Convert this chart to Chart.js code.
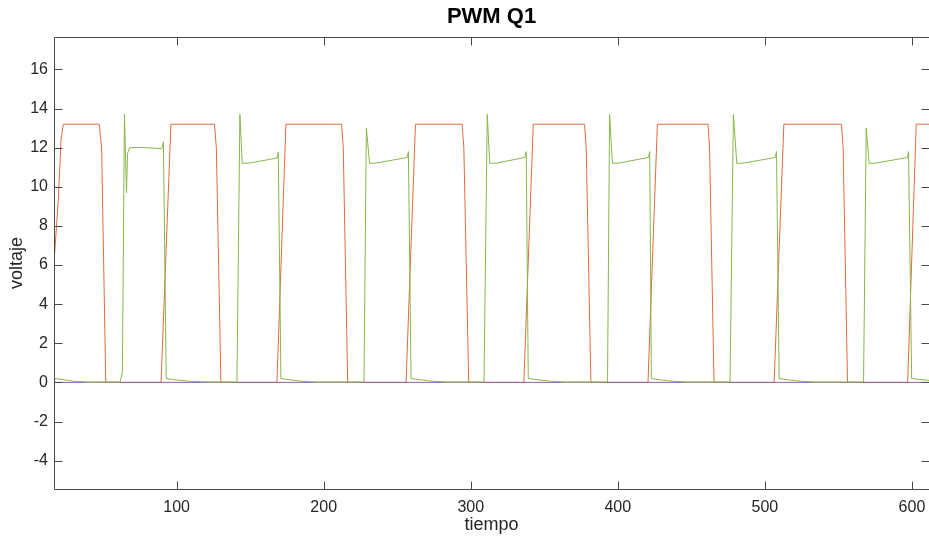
<!DOCTYPE html>
<html>
<head>
<meta charset="utf-8">
<title>PWM Q1</title>
<script src="https://cdn.jsdelivr.net/npm/chart.js@4/dist/chart.umd.min.js"></script>
<style>
    body { margin: 0; background: #fff; }
    #wrap { width: 929px; height: 541px; position: relative; }
</style>
</head>
<body>
<div id="wrap"><canvas id="pwmChart"></canvas></div>
<script>
// Values (tiempo, voltaje)

const chartTitle = 'PWM Q1';
const xTicks = [100, 200, 300, 400, 500, 600];
const yTicks = [-4, -2, 0, 2, 4, 6, 8, 10, 12, 14, 16];

// red trace
const redX = [16.6, 19.5, 21.4, 22.9, 47.4, 49.0, 51.8,
    89.4, 96.1, 125.7, 127.0, 130.1,
    168.2, 174.3, 212.2, 213.3, 216.3,
    256.0, 262.4, 294.1, 295.3, 298.6,
    336.1, 342.5, 377.4, 378.5, 381.7,
    420.5, 426.9, 461.3, 462.4, 465.4,
    506.3, 512.9, 552.1, 553.2, 556.2,
    597.1, 602.9, 611.6];
const redY = [6.1, 9.3, 12.4, 13.2, 13.2, 12.0, 0,
    0, 13.2, 13.2, 12.0, 0,
    0, 13.2, 13.2, 12.0, 0,
    0, 13.2, 13.2, 12.0, 0,
    0, 13.2, 13.2, 12.0, 0,
    0, 13.2, 13.2, 12.0, 0,
    0, 13.2, 13.2, 12.0, 0,
    0, 13.2, 13.2];

// green trace
const greenX = [16.6, 22, 30, 40, 61.5, 63.1, 64.5, 65.9, 66.6, 68.0, 75, 89.9, 91.0, 92.9,
    100, 110, 125, 141.0, 143.0, 144.6, 150, 168.2, 169.1, 170.9,
    176, 185, 195, 227.4, 229.0, 231.2, 236, 256.7, 257.6, 259.4,
    265, 274, 284, 309.0, 311.2, 312.9, 318, 336.8, 337.7, 339.1,
    345, 354, 364, 393.0, 394.4, 396.3, 401, 420.8, 421.7, 422.8,
    428, 437, 447, 476.3, 478.6, 480.9, 486, 507.0, 507.9, 509.7,
    515, 524, 534, 567.1, 568.9, 570.9, 576, 597.0, 597.7, 599.8,
    605, 611.6];
const greenY = [0.2, 0.15, 0.06, 0.02, 0.02, 0.5, 13.7, 9.7, 11.7, 12.0, 12.02, 11.95, 12.3, 0.2,
    0.12, 0.05, 0.02, 0.02, 13.7, 11.2, 11.22, 11.47, 11.78, 0.2,
    0.14, 0.06, 0.02, 0.02, 13.0, 11.2, 11.22, 11.5, 11.8, 0.2,
    0.14, 0.06, 0.02, 0.02, 13.7, 11.2, 11.22, 11.5, 11.8, 0.2,
    0.14, 0.06, 0.02, 0.02, 13.7, 11.2, 11.22, 11.5, 11.8, 0.2,
    0.14, 0.06, 0.02, 0.02, 13.7, 11.2, 11.22, 11.5, 11.8, 0.2,
    0.14, 0.06, 0.02, 0.02, 13.0, 11.2, 11.22, 11.5, 11.8, 0.2,
    0.15, 0.1];

// purple trace (flat)
const purpleX = [16.6, 611.6];
const purpleY = [0, 0];

const textColor = '#262626';
const fontFamily = '"Liberation Sans", Arial, Helvetica, sans-serif';

function toPoints(xs, ys) {
    return xs.map((x, i) => ({ x: x, y: ys[i] }));
}

// Box round the plot with inward ticks on all four sides, MATLAB style
const boxPlugin = {
    id: 'boxPlugin',
    afterDraw(chart) {
        const ctx = chart.ctx;
        const a = chart.chartArea;
        const xs = chart.scales.x;
        const ys = chart.scales.y;
        const L = Math.floor(a.left) + 0.5;
        const R = Math.ceil(a.right) + 0.5; // right edge sits just past the canvas
        const T = Math.floor(a.top) + 0.5;
        const B = Math.floor(a.bottom) + 0.5;
        const tl = 8;
        ctx.save();
        ctx.strokeStyle = '#4a4a4a';
        ctx.lineWidth = 1;
        ctx.beginPath();
        ctx.moveTo(L, T); ctx.lineTo(R, T); ctx.lineTo(R, B); ctx.lineTo(L, B); ctx.closePath();
        xTicks.forEach(v => {
            const px = Math.round(xs.getPixelForValue(v)) + 0.5;
            ctx.moveTo(px, B); ctx.lineTo(px, B - tl);
            ctx.moveTo(px, T); ctx.lineTo(px, T + tl);
        });
        yTicks.forEach(v => {
            const py = Math.round(ys.getPixelForValue(v)) + 0.5;
            ctx.moveTo(L, py); ctx.lineTo(L + tl, py);
            ctx.moveTo(R, py); ctx.lineTo(R - tl, py);
        });
        ctx.stroke();

        // title centred over the axes
        ctx.fillStyle = '#000';
        ctx.font = 'bold 22px ' + fontFamily;
        ctx.textAlign = 'center';
        ctx.textBaseline = 'middle';
        ctx.fillText(chartTitle, (a.left + a.right) / 2, 17);
        ctx.restore();
    }
};

new Chart(document.getElementById('pwmChart'), {
    type: 'line',
    data: {
        datasets: [
            {
                label: 'green',
                data: toPoints(greenX, greenY),
                borderColor: '#86B74A',
                borderWidth: 1
            },
            {
                label: 'purple',
                data: toPoints(purpleX, purpleY),
                borderColor: '#9A5AA8',
                borderWidth: 1
            },
            {
                label: 'red',
                data: toPoints(redX, redY),
                borderColor: '#DE6B3A',
                borderWidth: 1
            }
        ]
    },
    options: {
        responsive: true,
        maintainAspectRatio: false,
        animation: false,
        events: [],
        elements: {
            point: { radius: 0 },
            line: { tension: 0 }
        },
        layout: { padding: { top: 37, left: 0, right: 0, bottom: 0 } },
        plugins: {
            legend: { display: false },
            tooltip: { enabled: false },
            title: { display: false }
        },
        scales: {
            x: {
                type: 'linear',
                min: 16.6,
                max: 611.6,
                afterBuildTicks: s => { s.ticks = xTicks.map(v => ({ value: v })); },
                afterFit: s => { s.height = 52; s.paddingLeft = 0; s.paddingRight = 0; },
                grid: { display: false, drawTicks: false },
                border: { display: false },
                ticks: {
                    color: textColor,
                    font: { family: fontFamily, size: 16 },
                    padding: 9,
                    maxRotation: 0,
                    autoSkip: false
                },
                title: {
                    display: true,
                    text: 'tiempo',
                    color: textColor,
                    font: { family: fontFamily, size: 18 },
                    padding: { top: 0, bottom: 5 }
                }
            },
            y: {
                min: -5.45,
                max: 17.66,
                afterBuildTicks: s => { s.ticks = yTicks.map(v => ({ value: v })); },
                afterFit: s => { s.width = 54; s.paddingTop = 0; s.paddingBottom = 0; },
                grid: { display: false, drawTicks: false },
                border: { display: false },
                ticks: {
                    color: textColor,
                    font: { family: fontFamily, size: 16 },
                    padding: 6,
                    autoSkip: false
                },
                title: {
                    display: true,
                    text: 'voltaje',
                    color: textColor,
                    font: { family: fontFamily, size: 18 },
                    padding: { top: 6, bottom: 0 }
                }
            }
        }
    },
    plugins: [boxPlugin]
});
</script>
</body>
</html>
